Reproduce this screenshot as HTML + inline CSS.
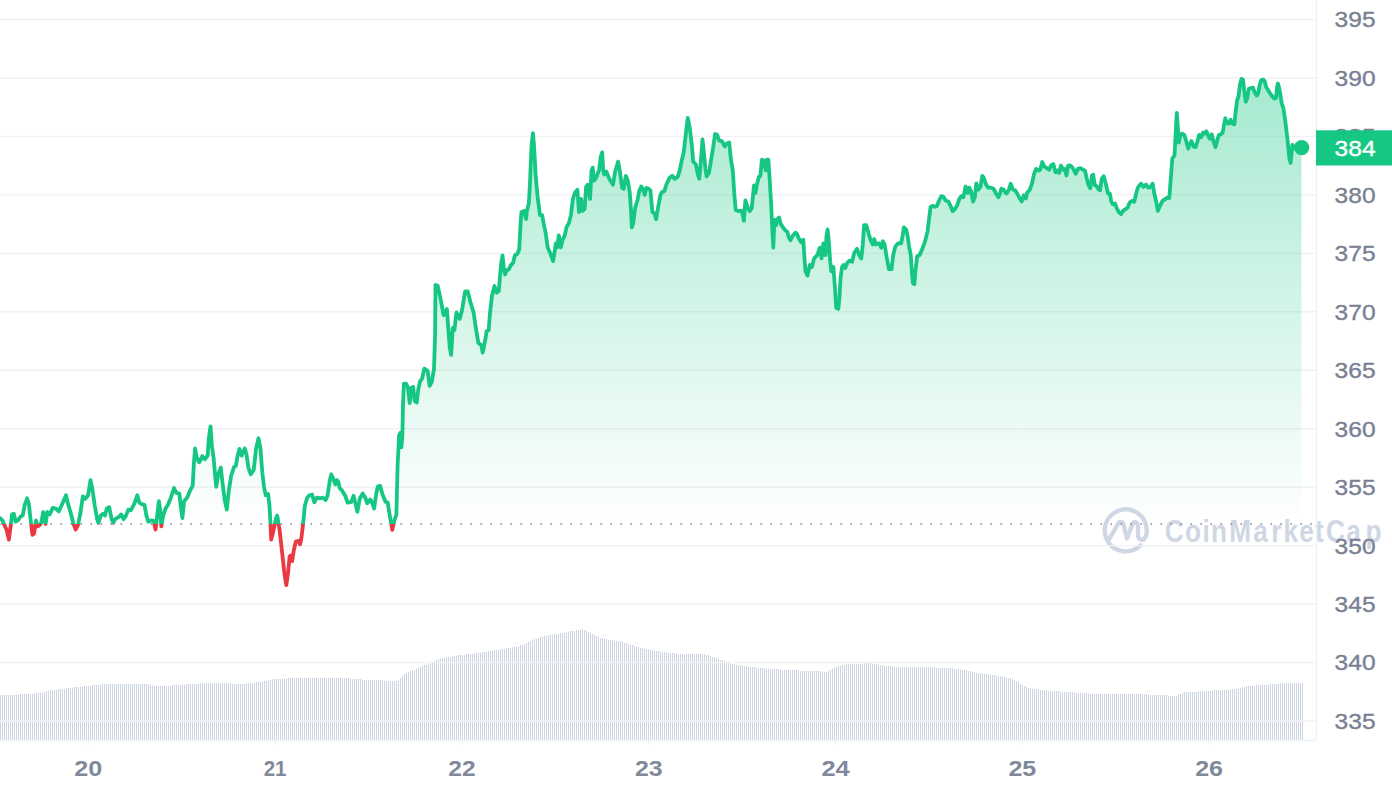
<!DOCTYPE html>
<html lang="en"><head><meta charset="utf-8"><title>Chart</title>
<style>
html,body{margin:0;padding:0;background:#fff;}
body{width:1392px;height:792px;overflow:hidden;font-family:"Liberation Sans",sans-serif;}
svg{display:block}
.yl text{font-family:"Liberation Sans",sans-serif;font-size:22.2px;fill:#7a8093;stroke:#7a8093;stroke-width:0.35px;}
.xl text{font-family:"Liberation Sans",sans-serif;font-size:22px;font-weight:700;fill:#7f899b;}
</style></head><body>
<svg width="1392" height="792" viewBox="0 0 1392 792">
<defs>
<linearGradient id="gg" gradientUnits="userSpaceOnUse" x1="0" y1="0" x2="0" y2="524.0">
<stop offset="0" stop-color="#16c784" stop-opacity="0.45"/><stop offset="1" stop-color="#16c784" stop-opacity="0.0"/></linearGradient>
<linearGradient id="rg" gradientUnits="userSpaceOnUse" x1="0" y1="524.0" x2="0" y2="740.5">
<stop offset="0" stop-color="#ea3943" stop-opacity="0.0"/><stop offset="1" stop-color="#ea3943" stop-opacity="0.3"/></linearGradient>
<clipPath id="up"><rect x="0" y="0" width="1316.5" height="524.0"/></clipPath>
<clipPath id="dn"><rect x="0" y="524.0" width="1316.5" height="216.5"/></clipPath>
</defs>
<rect width="1392" height="792" fill="#fff"/>
<path d="M0.5 695V740M2.5 695V740M4.5 695V740M6.5 695V740M8.5 695V740M10.5 695V740M12.5 695V740M14.5 695V740M16.5 695V740M18.5 695V740M20.5 694V740M22.5 694V740M24.5 694V740M26.5 694V740M28.5 694V740M30.5 694V740M32.5 694V740M34.5 693V740M36.5 693V740M38.5 693V740M40.5 693V740M42.5 692V740M44.5 692V740M46.5 691V740M48.5 691V740M50.5 690V740M52.5 690V740M54.5 690V740M56.5 690V740M58.5 689V740M60.5 689V740M62.5 689V740M64.5 689V740M66.5 688V740M68.5 688V740M70.5 688V740M72.5 688V740M74.5 687V740M76.5 687V740M78.5 687V740M80.5 687V740M82.5 687V740M84.5 686V740M86.5 686V740M88.5 686V740M90.5 686V740M92.5 685V740M94.5 685V740M96.5 685V740M98.5 685V740M100.5 684V740M102.5 684V740M104.5 684V740M106.5 684V740M108.5 684V740M110.5 684V740M112.5 684V740M114.5 684V740M116.5 684V740M118.5 684V740M120.5 684V740M122.5 684V740M124.5 684V740M126.5 684V740M128.5 684V740M130.5 684V740M132.5 684V740M134.5 684V740M136.5 684V740M138.5 684V740M140.5 684V740M142.5 684V740M144.5 684V740M146.5 684V740M148.5 684V740M150.5 685V740M152.5 685V740M154.5 686V740M156.5 686V740M158.5 686V740M160.5 686V740M162.5 686V740M164.5 686V740M166.5 686V740M168.5 686V740M170.5 686V740M172.5 685V740M174.5 685V740M176.5 685V740M178.5 685V740M180.5 685V740M182.5 685V740M184.5 685V740M186.5 684V740M188.5 684V740M190.5 684V740M192.5 684V740M194.5 684V740M196.5 684V740M198.5 684V740M200.5 683V740M202.5 683V740M204.5 683V740M206.5 683V740M208.5 683V740M210.5 683V740M212.5 683V740M214.5 683V740M216.5 683V740M218.5 683V740M220.5 683V740M222.5 683V740M224.5 683V740M226.5 683V740M228.5 683V740M230.5 683V740M232.5 684V740M234.5 684V740M236.5 684V740M238.5 684V740M240.5 684V740M242.5 684V740M244.5 684V740M246.5 683V740M248.5 683V740M250.5 683V740M252.5 683V740M254.5 683V740M256.5 682V740M258.5 682V740M260.5 682V740M262.5 681V740M264.5 681V740M266.5 681V740M268.5 680V740M270.5 680V740M272.5 679V740M274.5 679V740M276.5 679V740M278.5 679V740M280.5 679V740M282.5 679V740M284.5 679V740M286.5 678V740M288.5 678V740M290.5 678V740M292.5 678V740M294.5 678V740M296.5 678V740M298.5 678V740M300.5 678V740M302.5 678V740M304.5 678V740M306.5 678V740M308.5 678V740M310.5 678V740M312.5 678V740M314.5 678V740M316.5 678V740M318.5 678V740M320.5 678V740M322.5 678V740M324.5 678V740M326.5 678V740M328.5 678V740M330.5 678V740M332.5 678V740M334.5 678V740M336.5 678V740M338.5 678V740M340.5 678V740M342.5 678V740M344.5 678V740M346.5 678V740M348.5 678V740M350.5 679V740M352.5 679V740M354.5 679V740M356.5 679V740M358.5 679V740M360.5 679V740M362.5 680V740M364.5 680V740M366.5 680V740M368.5 680V740M370.5 680V740M372.5 680V740M374.5 680V740M376.5 680V740M378.5 680V740M380.5 680V740M382.5 680V740M384.5 681V740M386.5 681V740M388.5 681V740M390.5 681V740M392.5 681V740M394.5 681V740M396.5 681V740M398.5 680V740M400.5 678V740M402.5 676V740M404.5 674V740M406.5 673V740M408.5 672V740M410.5 671V740M412.5 670V740M414.5 670V740M416.5 669V740M418.5 668V740M420.5 667V740M422.5 666V740M424.5 665V740M426.5 665V740M428.5 664V740M430.5 663V740M432.5 662V740M434.5 661V740M436.5 660V740M438.5 659V740M440.5 659V740M442.5 658V740M444.5 658V740M446.5 657V740M448.5 657V740M450.5 657V740M452.5 656V740M454.5 656V740M456.5 656V740M458.5 655V740M460.5 655V740M462.5 655V740M464.5 655V740M466.5 654V740M468.5 654V740M470.5 654V740M472.5 654V740M474.5 653V740M476.5 653V740M478.5 653V740M480.5 653V740M482.5 652V740M484.5 652V740M486.5 652V740M488.5 651V740M490.5 651V740M492.5 651V740M494.5 650V740M496.5 650V740M498.5 650V740M500.5 649V740M502.5 649V740M504.5 649V740M506.5 648V740M508.5 648V740M510.5 648V740M512.5 647V740M514.5 647V740M516.5 647V740M518.5 646V740M520.5 645V740M522.5 645V740M524.5 644V740M526.5 643V740M528.5 642V740M530.5 641V740M532.5 640V740M534.5 639V740M536.5 639V740M538.5 638V740M540.5 637V740M542.5 637V740M544.5 636V740M546.5 636V740M548.5 635V740M550.5 635V740M552.5 635V740M554.5 634V740M556.5 634V740M558.5 634V740M560.5 633V740M562.5 633V740M564.5 633V740M566.5 632V740M568.5 632V740M570.5 631V740M572.5 631V740M574.5 631V740M576.5 630V740M578.5 630V740M580.5 630V740M582.5 629V740M584.5 630V740M586.5 631V740M588.5 632V740M590.5 633V740M592.5 634V740M594.5 635V740M596.5 636V740M598.5 637V740M600.5 638V740M602.5 638V740M604.5 639V740M606.5 639V740M608.5 640V740M610.5 640V740M612.5 640V740M614.5 641V740M616.5 641V740M618.5 641V740M620.5 641V740M622.5 642V740M624.5 643V740M626.5 643V740M628.5 644V740M630.5 645V740M632.5 645V740M634.5 646V740M636.5 647V740M638.5 647V740M640.5 648V740M642.5 648V740M644.5 649V740M646.5 649V740M648.5 649V740M650.5 650V740M652.5 650V740M654.5 651V740M656.5 651V740M658.5 651V740M660.5 652V740M662.5 652V740M664.5 652V740M666.5 652V740M668.5 653V740M670.5 653V740M672.5 653V740M674.5 653V740M676.5 654V740M678.5 654V740M680.5 654V740M682.5 654V740M684.5 655V740M686.5 654V740M688.5 654V740M690.5 654V740M692.5 654V740M694.5 654V740M696.5 654V740M698.5 654V740M700.5 654V740M702.5 654V740M704.5 654V740M706.5 655V740M708.5 655V740M710.5 656V740M712.5 657V740M714.5 657V740M716.5 658V740M718.5 659V740M720.5 660V740M722.5 660V740M724.5 661V740M726.5 662V740M728.5 663V740M730.5 664V740M732.5 664V740M734.5 664V740M736.5 665V740M738.5 665V740M740.5 665V740M742.5 666V740M744.5 666V740M746.5 666V740M748.5 667V740M750.5 667V740M752.5 667V740M754.5 667V740M756.5 668V740M758.5 668V740M760.5 668V740M762.5 668V740M764.5 668V740M766.5 669V740M768.5 669V740M770.5 669V740M772.5 669V740M774.5 669V740M776.5 669V740M778.5 669V740M780.5 670V740M782.5 670V740M784.5 670V740M786.5 670V740M788.5 670V740M790.5 670V740M792.5 670V740M794.5 670V740M796.5 670V740M798.5 670V740M800.5 671V740M802.5 671V740M804.5 671V740M806.5 671V740M808.5 671V740M810.5 671V740M812.5 671V740M814.5 671V740M816.5 671V740M818.5 671V740M820.5 671V740M822.5 672V740M824.5 672V740M826.5 672V740M828.5 671V740M830.5 670V740M832.5 669V740M834.5 668V740M836.5 667V740M838.5 666V740M840.5 666V740M842.5 665V740M844.5 665V740M846.5 664V740M848.5 664V740M850.5 664V740M852.5 664V740M854.5 664V740M856.5 664V740M858.5 664V740M860.5 664V740M862.5 664V740M864.5 663V740M866.5 663V740M868.5 663V740M870.5 663V740M872.5 664V740M874.5 664V740M876.5 664V740M878.5 665V740M880.5 665V740M882.5 665V740M884.5 666V740M886.5 666V740M888.5 666V740M890.5 666V740M892.5 666V740M894.5 667V740M896.5 667V740M898.5 667V740M900.5 667V740M902.5 667V740M904.5 667V740M906.5 667V740M908.5 667V740M910.5 667V740M912.5 667V740M914.5 667V740M916.5 667V740M918.5 667V740M920.5 667V740M922.5 667V740M924.5 667V740M926.5 667V740M928.5 667V740M930.5 667V740M932.5 667V740M934.5 667V740M936.5 668V740M938.5 668V740M940.5 668V740M942.5 668V740M944.5 668V740M946.5 668V740M948.5 668V740M950.5 668V740M952.5 668V740M954.5 669V740M956.5 669V740M958.5 669V740M960.5 669V740M962.5 670V740M964.5 670V740M966.5 670V740M968.5 671V740M970.5 671V740M972.5 672V740M974.5 672V740M976.5 673V740M978.5 673V740M980.5 673V740M982.5 674V740M984.5 674V740M986.5 674V740M988.5 674V740M990.5 675V740M992.5 675V740M994.5 675V740M996.5 676V740M998.5 676V740M1000.5 676V740M1002.5 677V740M1004.5 677V740M1006.5 678V740M1008.5 678V740M1010.5 678V740M1012.5 679V740M1014.5 680V740M1016.5 681V740M1018.5 682V740M1020.5 684V740M1022.5 685V740M1024.5 686V740M1026.5 687V740M1028.5 688V740M1030.5 688V740M1032.5 689V740M1034.5 689V740M1036.5 689V740M1038.5 689V740M1040.5 690V740M1042.5 690V740M1044.5 690V740M1046.5 690V740M1048.5 691V740M1050.5 691V740M1052.5 691V740M1054.5 691V740M1056.5 691V740M1058.5 691V740M1060.5 692V740M1062.5 692V740M1064.5 692V740M1066.5 692V740M1068.5 692V740M1070.5 692V740M1072.5 692V740M1074.5 692V740M1076.5 693V740M1078.5 693V740M1080.5 693V740M1082.5 693V740M1084.5 693V740M1086.5 693V740M1088.5 693V740M1090.5 694V740M1092.5 694V740M1094.5 694V740M1096.5 694V740M1098.5 694V740M1100.5 694V740M1102.5 694V740M1104.5 694V740M1106.5 694V740M1108.5 694V740M1110.5 694V740M1112.5 694V740M1114.5 694V740M1116.5 694V740M1118.5 694V740M1120.5 694V740M1122.5 694V740M1124.5 694V740M1126.5 694V740M1128.5 694V740M1130.5 694V740M1132.5 694V740M1134.5 694V740M1136.5 694V740M1138.5 694V740M1140.5 694V740M1142.5 694V740M1144.5 694V740M1146.5 694V740M1148.5 695V740M1150.5 695V740M1152.5 695V740M1154.5 695V740M1156.5 695V740M1158.5 695V740M1160.5 695V740M1162.5 695V740M1164.5 695V740M1166.5 695V740M1168.5 696V740M1170.5 696V740M1172.5 696V740M1174.5 696V740M1176.5 696V740M1178.5 695V740M1180.5 694V740M1182.5 693V740M1184.5 692V740M1186.5 692V740M1188.5 692V740M1190.5 692V740M1192.5 692V740M1194.5 692V740M1196.5 692V740M1198.5 691V740M1200.5 691V740M1202.5 691V740M1204.5 691V740M1206.5 691V740M1208.5 691V740M1210.5 691V740M1212.5 690V740M1214.5 690V740M1216.5 690V740M1218.5 690V740M1220.5 690V740M1222.5 690V740M1224.5 690V740M1226.5 690V740M1228.5 690V740M1230.5 689V740M1232.5 689V740M1234.5 689V740M1236.5 689V740M1238.5 688V740M1240.5 688V740M1242.5 687V740M1244.5 687V740M1246.5 686V740M1248.5 686V740M1250.5 686V740M1252.5 686V740M1254.5 686V740M1256.5 685V740M1258.5 685V740M1260.5 685V740M1262.5 685V740M1264.5 685V740M1266.5 685V740M1268.5 684V740M1270.5 684V740M1272.5 684V740M1274.5 684V740M1276.5 684V740M1278.5 684V740M1280.5 683V740M1282.5 683V740M1284.5 683V740M1286.5 683V740M1288.5 683V740M1290.5 683V740M1292.5 683V740M1294.5 683V740M1296.5 683V740M1298.5 683V740M1300.5 683V740M1302.5 683V740" stroke="#ccd4e1" stroke-width="1" fill="none" shape-rendering="crispEdges"/>
<g id="wm" fill="none" stroke="#d0d7e4" stroke-width="4.4" stroke-linecap="round" stroke-linejoin="round">
<path d="M1140.5 545.3 A21 21 0 1 1 1146.7 529.5 C1147 536 1145 539.8 1141.8 539.8 C1139 539.8 1138 537.5 1138 534 L1138 527 C1138 521.5 1133.6 520.8 1132.2 524.8 L1127 538.5 L1123.6 525 C1122.6 521 1119.6 521 1118 524 L1108.8 540"/>
</g>
<text transform="scale(0.86 1)" x="1354.4 1377.8 1398.4 1408.0 1429.3 1457.2 1478.3 1492.6 1510.8 1529.2 1542.0 1565.3 1587.9" y="541.6" font-family="Liberation Sans, sans-serif" font-weight="700" font-size="30.5" fill="#d0d7e4">CoinMarketCap</text>
<g stroke="#f0f1f3" stroke-width="1.4"><line x1="0" x2="1316.5" y1="19.5" y2="19.5"/><line x1="0" x2="1316.5" y1="78" y2="78"/><line x1="0" x2="1316.5" y1="136.4" y2="136.4"/><line x1="0" x2="1316.5" y1="194.9" y2="194.9"/><line x1="0" x2="1316.5" y1="253.4" y2="253.4"/><line x1="0" x2="1316.5" y1="311.8" y2="311.8"/><line x1="0" x2="1316.5" y1="370.2" y2="370.2"/><line x1="0" x2="1316.5" y1="428.7" y2="428.7"/><line x1="0" x2="1316.5" y1="487.2" y2="487.2"/><line x1="0" x2="1316.5" y1="545.6" y2="545.6"/><line x1="0" x2="1316.5" y1="604.1" y2="604.1"/><line x1="0" x2="1316.5" y1="662.5" y2="662.5"/><line x1="0" x2="1316.5" y1="721" y2="721"/></g>
<path d="M0 518 L2.4 520.4 L4.3 524.7 L6.7 530 L8.9 539.6 L10.8 525.2 L12 514.4 L13.9 513.9 L15.6 521.6 L18 520.4 L20.4 516.8 L22.8 515.1 L24.7 504.8 L27.1 498.3 L28.8 503.6 L30.7 520.4 L32.4 534.8 L34.1 533.6 L36 520.4 L37.7 526.4 L39.6 525.2 L41.3 522.8 L43.2 512 L45.6 524 L47.3 512 L49.7 514.4 L52.8 507.9 L56.4 508.9 L58.8 511.3 L61.9 504.8 L66 495.2 L67.9 503.6 L70.8 513.2 L73.2 522.8 L75.6 529.5 L78 525.2 L80.4 513.2 L82.8 496.4 L85.2 498.8 L88.1 495.2 L90.5 480.1 L92.4 489.2 L94.8 506 L97.2 519.2 L98.4 522.8 L100.8 515.6 L103.2 513.7 L104.9 515.6 L106.8 508.4 L109.2 507.2 L111.6 519.2 L113.3 522.8 L115.2 519.2 L118.8 516.8 L121.2 514.4 L123.6 519.2 L126 515.6 L128.4 509.6 L130.8 510.3 L134.4 503.6 L137.3 495.2 L139.2 502.4 L141.6 504.1 L144.5 504.8 L146.4 515.6 L148.3 521.6 L151.2 520.4 L153.6 520.9 L155.5 529.5 L157.2 515.6 L158.9 501.2 L160.3 510.8 L161.3 526.4 L163.2 515.6 L165.6 508.4 L168 504.8 L170.9 497.6 L174 488 L176.4 492.8 L179.3 493.5 L180.7 506 L182.4 518 L184.1 501.2 L187.2 497.6 L189.6 491.6 L192.7 485.6 L193.9 462.8 L195.1 448.4 L196.8 458 L199.2 462.3 L202.3 456.1 L204.7 459.2 L207.6 455.6 L208.8 438.8 L210.5 426.3 L211.9 446 L213.6 458 L215.3 477.2 L216.2 486.8 L218.4 473.6 L220.8 467.6 L222.7 484.4 L224.9 501.2 L226.8 509.6 L228.7 491.6 L231.1 476 L234 467.1 L235.9 465.7 L237.6 455.6 L239.5 448.9 L241.7 455.6 L244.8 448.4 L246.5 454.4 L248.4 467.6 L250.8 474.3 L253.7 470 L256.1 448.4 L258.5 438.3 L260.4 448.4 L262.3 472.4 L264 486.8 L265.7 495.2 L268.1 494 L269.5 506 L270.5 524 L271.2 539.6 L273.6 530 L276 518 L277.2 515.6 L278.4 522.8 L279.6 530 L282 551.6 L284.4 573.2 L286.3 585.2 L288 573.2 L289.7 556.4 L291.6 555.2 L292.1 561.2 L294 549.2 L295.9 541.5 L298.8 540.8 L300 544.4 L301.2 539.6 L303.1 524 L304.8 506 L307.2 497.6 L309.6 495.2 L312 494.5 L314.4 502.4 L316.8 497.6 L320.4 498.3 L322.8 497.6 L325.7 500 L327.6 495.2 L330 479.6 L331.2 474.3 L333.6 479.6 L335.3 484.4 L336.7 480.1 L338.4 482 L339.6 488 L342 490.4 L344.9 495.2 L345.3 495.8 L347.6 502.6 L351.4 501.8 L353.6 495.8 L355.2 502.6 L357.4 511.7 L359.7 498.8 L362.7 493.5 L365 497.3 L367.3 503.3 L370.3 499.5 L372.1 502.6 L374.1 508.6 L376.4 492.7 L377.9 486.4 L380.2 485.9 L382.4 494.2 L385.5 501.8 L387.7 502.6 L390 517 L392.3 529.8 L394.5 520 L396.4 514.7 L397.6 465.5 L399.1 435.2 L400.3 432.9 L401.4 447.3 L402.4 435.2 L402.9 407.3 L403.9 383.7 L406.1 383.7 L407.8 387 L409.7 403 L411.5 387.6 L413.2 387 L414.7 400.9 L416.8 402.6 L418.3 389.1 L420 381.6 L422.2 378.4 L424.3 368.7 L427.6 370.9 L429.7 385.9 L431.8 381.6 L434 368.7 L435.1 334.4 L435.5 285 L437.6 285.5 L440.4 297.9 L443.6 315.1 L446.9 309.1 L448.4 330.1 L449.7 347.3 L451.2 354.8 L452.7 327.9 L454.4 330.1 L456.5 312.5 L459.7 318.9 L461.9 310.8 L465.1 291.5 L467.7 291.5 L470.5 302.2 L473.7 312.9 L475.8 327.9 L478.4 343 L481.2 345.1 L482.7 352.6 L485.5 338.7 L486.6 331.2 L488.7 330.1 L490 313 L492 295.8 L494.5 286 L496.7 292.7 L498.8 291 L500.4 271.5 L501.2 263.5 L502.5 255.5 L503.8 268 L505 274.5 L506.9 270.1 L508.8 269.4 L510.7 265.4 L513.1 262.8 L515 255.2 L517.3 254 L519.2 249.3 L520.4 227.2 L521.4 212 L524 211 L526.1 219.1 L526.9 211 L528.9 202.9 L530.1 180.7 L531.5 146.4 L532.9 133.2 L534.1 146.4 L535.6 174.6 L537.6 196.9 L540 215.1 L542.2 215.1 L543.6 223.1 L545.7 233.2 L547.7 247.4 L550.3 253.4 L553.1 261.1 L554.7 251.4 L555.8 243.3 L557.2 247.4 L558.8 235.3 L560.8 247.4 L562.8 239.3 L564.8 235.3 L566.5 227.2 L568.9 223.1 L570.9 215.1 L572.9 198.9 L574.9 192.8 L577.4 189.8 L579 212 L581 198.9 L582.6 211 L584.6 209 L586.1 186.8 L587.5 184.7 L590.1 198.9 L591.5 170.6 L592.7 167.6 L594.1 180.7 L596.2 177.7 L599.2 169.6 L600.8 156.5 L602.2 152.4 L603.2 170.6 L604.2 174.6 L606.3 171.6 L609.3 178.7 L613 184.8 L615.1 171.7 L618.1 161.6 L620.1 172.7 L622.1 187.9 L623.7 188.9 L625.8 175.8 L627.8 180.8 L629.8 192.9 L631.2 213.1 L631.8 227.3 L633.2 223.2 L635.3 207.1 L637.3 201 L639.3 190.9 L641.3 186.5 L643.3 189.9 L644.7 194.9 L646.4 187.9 L648.4 188.5 L650.4 190.5 L652.4 212.1 L654.4 213.1 L656.1 219.2 L658.5 205.1 L660.5 194.9 L662.1 191.9 L664.5 190.9 L666.6 183.8 L669.6 177.8 L672.2 175.8 L674.6 178.8 L677.7 176.8 L679.7 170.7 L681.7 160.6 L683.7 152.5 L685.8 134.3 L687.8 117.8 L689.8 128.3 L691.8 144.4 L693.2 161.6 L695.9 164.6 L697.9 174.7 L699.3 178.8 L700.9 160.6 L702.5 139.4 L703.9 152.5 L705.4 168.7 L706.6 176.4 L709 172.7 L711 160.6 L713 148.5 L715.1 133.9 L717.1 134.7 L719.1 140.4 L722.1 141.4 L724.7 146.5 L726.8 143.4 L729.2 142.4 L730.8 158.6 L732.8 170.7 L734.2 192.9 L735.7 210.1 L738.3 211.1 L741.3 210.7 L742.1 212.3 L743.9 220.9 L745.4 200.5 L747.5 206.9 L749.7 211.2 L751.8 208 L754 185.4 L755.5 192.9 L756.7 185.4 L758.9 176.8 L760.4 175.8 L761.9 159.7 L764 160.7 L765.8 170.4 L766.8 159.7 L768.3 159.7 L769.6 177.9 L771.1 203.7 L772.2 227.3 L773.3 247.7 L774.4 219.8 L776.1 225.2 L777.6 218.7 L779.1 217.6 L780.8 224.1 L782.9 227.3 L785.5 230.5 L787.2 231.6 L789 238 L790.5 240.2 L792.6 235.9 L795.4 232.7 L796.9 233.7 L799.1 239.1 L801.2 242.3 L803.3 239.8 L804.4 257.4 L805.5 271.3 L807.6 275.6 L809.8 264.9 L811.9 267 L814.1 258.4 L817.3 255.2 L819.9 247.7 L821.6 258.4 L823.3 243.4 L825.5 255.2 L826.5 235.9 L827.6 229.5 L828.7 240.2 L830.2 261.7 L831.3 271.3 L833.4 267 L834.9 287.4 L836.2 307.8 L838.3 308.9 L839.4 298.2 L840.5 278.8 L842 267 L843.5 264.9 L845.2 268.1 L847.4 262.7 L849.5 260.6 L852.1 261.7 L854.2 253.1 L857 248.8 L859.2 255.2 L861.3 258.4 L862.8 244.5 L864.1 225.2 L866.3 225.2 L868.4 232.7 L870.6 240.2 L872.7 244.5 L874.2 239.1 L875.7 244.5 L877.9 243.4 L879 243.4 L881.2 247.7 L882.9 241.3 L884.6 244.5 L886.7 257.4 L888.9 269.2 L891.5 269.2 L893.2 255.2 L895.3 246.6 L897.9 243.4 L901.1 243.4 L902.6 235.9 L903.9 227.3 L906.1 229.5 L907.6 235.9 L909.1 246.6 L910.8 255.2 L911.9 272.4 L912.9 283.1 L914.4 284.2 L915.5 270.2 L917.2 256.3 L919.4 255.2 L921.5 250.9 L924.8 242.3 L927.5 231.6 L929.1 218.7 L930.6 206.9 L932.7 205.8 L934.8 206.9 L937 205.8 L939.1 200.5 L941.3 196.2 L943.4 196.8 L945.6 200.5 L948.4 201.5 L950.5 205.8 L952.7 211.2 L954.8 209.1 L957 205.8 L959.1 199.4 L961.3 196.2 L963.4 197.2 L965.6 186.5 L967.7 192.9 L969.2 187.6 L970.9 190.8 L973.1 201.5 L974.8 197.2 L976.3 183.3 L978.4 189.7 L980.6 186.5 L982.3 175.8 L983.8 177.9 L986 184.4 L988.1 187.6 L990.7 187.6 L993.5 188.7 L995.6 192.9 L998.4 197.2 L999.9 194 L1001.4 188.7 L1003.6 189.7 L1005.7 192.9 L1006.6 193.5 L1009 189.4 L1010.7 183.7 L1012.8 189.4 L1015.1 190.3 L1017.2 193.5 L1019.7 198.5 L1021.7 201.4 L1023.8 195.2 L1025.9 198.5 L1027.1 192.7 L1029.5 190.3 L1032 183.7 L1034.1 173.8 L1036.1 168.9 L1038.6 170.6 L1040.2 169.7 L1042.3 162 L1044.3 166.5 L1046.8 168.1 L1049.2 169.7 L1050.9 165.6 L1053.3 164 L1055.5 172.2 L1057.4 170.6 L1059.1 173 L1061 165.6 L1063.2 169.7 L1064.8 168.9 L1066.5 175.5 L1068.1 165.6 L1070.2 165.3 L1072.2 167.3 L1074.2 170.6 L1075.8 173.8 L1077.9 168.9 L1080.4 168.1 L1082.9 169.7 L1085 170.6 L1086.6 177.9 L1088.3 184.5 L1090.3 188.3 L1091.9 175.5 L1093.2 174.7 L1094.8 185.3 L1096.8 186.2 L1098.5 189.4 L1100.1 190.3 L1101.7 178.8 L1103.7 176.3 L1105.8 183.7 L1108 193.5 L1109.9 193.5 L1111.3 201.7 L1112.9 204.2 L1114.9 203.4 L1116.8 208.3 L1119 212.4 L1121.1 214 L1123.1 210.8 L1125.5 209.1 L1127.7 207.5 L1129.6 202.6 L1132.1 200.9 L1134.2 201.7 L1136.2 193.5 L1137.8 187.8 L1139.5 185.3 L1141.1 183.7 L1143.6 187 L1146 184.5 L1148.5 187.8 L1150.6 187 L1152.6 183.7 L1154.3 193.5 L1156.2 201.7 L1157.9 210.8 L1160 205.8 L1162.5 200.9 L1164.9 199.3 L1167.4 197.6 L1169.3 198.1 L1172.3 158.5 L1174.5 155.5 L1175.8 131.2 L1176.8 113 L1177.9 128.2 L1178.8 142.6 L1180.3 135.8 L1182.1 133.5 L1184.4 135 L1186.4 141.8 L1188.2 148.6 L1189.7 144.8 L1191.5 141.1 L1193.5 146.4 L1195.5 147.1 L1197.3 141.8 L1199.1 135 L1201.1 137.3 L1203 132.7 L1204.8 133.5 L1206.4 131.2 L1207.9 135 L1209.7 138.8 L1211.7 134.2 L1213.6 141.8 L1215.5 147.1 L1217.3 140.3 L1218.8 135 L1220.8 134.2 L1222.7 132.7 L1224.2 123.6 L1225.3 118.3 L1226.8 122.9 L1228.8 123.6 L1230.6 119.8 L1232.4 123.6 L1234.4 124.4 L1235.5 113 L1237 100.9 L1238.5 96.4 L1240 84.2 L1241.5 78.9 L1243 79.7 L1244.2 90.3 L1245.8 101.7 L1247.3 97.9 L1248.8 88.8 L1251.1 88 L1253 87.6 L1254.8 92.6 L1256.7 95.6 L1258.2 93.3 L1259.7 85 L1261.2 80.2 L1263.2 79.7 L1264.7 81.2 L1266.2 87.3 L1268.2 90.3 L1270 93.3 L1272.3 96.4 L1274.5 98.6 L1276.1 97.9 L1277 87.3 L1277.9 83.5 L1279.4 88.8 L1280.6 96.4 L1281.8 103.9 L1283.3 107.7 L1285.2 120.6 L1286.7 132.7 L1288.2 146.4 L1289.4 158.5 L1290.6 163 L1291.5 153.9 L1292.4 144.8 L1294.2 147.9 L1296.5 147.6 L1301.5 147.6 L1301.5 524.0 L0 524.0 Z" fill="url(#gg)" clip-path="url(#up)"/>
<path d="M0 518 L2.4 520.4 L4.3 524.7 L6.7 530 L8.9 539.6 L10.8 525.2 L12 514.4 L13.9 513.9 L15.6 521.6 L18 520.4 L20.4 516.8 L22.8 515.1 L24.7 504.8 L27.1 498.3 L28.8 503.6 L30.7 520.4 L32.4 534.8 L34.1 533.6 L36 520.4 L37.7 526.4 L39.6 525.2 L41.3 522.8 L43.2 512 L45.6 524 L47.3 512 L49.7 514.4 L52.8 507.9 L56.4 508.9 L58.8 511.3 L61.9 504.8 L66 495.2 L67.9 503.6 L70.8 513.2 L73.2 522.8 L75.6 529.5 L78 525.2 L80.4 513.2 L82.8 496.4 L85.2 498.8 L88.1 495.2 L90.5 480.1 L92.4 489.2 L94.8 506 L97.2 519.2 L98.4 522.8 L100.8 515.6 L103.2 513.7 L104.9 515.6 L106.8 508.4 L109.2 507.2 L111.6 519.2 L113.3 522.8 L115.2 519.2 L118.8 516.8 L121.2 514.4 L123.6 519.2 L126 515.6 L128.4 509.6 L130.8 510.3 L134.4 503.6 L137.3 495.2 L139.2 502.4 L141.6 504.1 L144.5 504.8 L146.4 515.6 L148.3 521.6 L151.2 520.4 L153.6 520.9 L155.5 529.5 L157.2 515.6 L158.9 501.2 L160.3 510.8 L161.3 526.4 L163.2 515.6 L165.6 508.4 L168 504.8 L170.9 497.6 L174 488 L176.4 492.8 L179.3 493.5 L180.7 506 L182.4 518 L184.1 501.2 L187.2 497.6 L189.6 491.6 L192.7 485.6 L193.9 462.8 L195.1 448.4 L196.8 458 L199.2 462.3 L202.3 456.1 L204.7 459.2 L207.6 455.6 L208.8 438.8 L210.5 426.3 L211.9 446 L213.6 458 L215.3 477.2 L216.2 486.8 L218.4 473.6 L220.8 467.6 L222.7 484.4 L224.9 501.2 L226.8 509.6 L228.7 491.6 L231.1 476 L234 467.1 L235.9 465.7 L237.6 455.6 L239.5 448.9 L241.7 455.6 L244.8 448.4 L246.5 454.4 L248.4 467.6 L250.8 474.3 L253.7 470 L256.1 448.4 L258.5 438.3 L260.4 448.4 L262.3 472.4 L264 486.8 L265.7 495.2 L268.1 494 L269.5 506 L270.5 524 L271.2 539.6 L273.6 530 L276 518 L277.2 515.6 L278.4 522.8 L279.6 530 L282 551.6 L284.4 573.2 L286.3 585.2 L288 573.2 L289.7 556.4 L291.6 555.2 L292.1 561.2 L294 549.2 L295.9 541.5 L298.8 540.8 L300 544.4 L301.2 539.6 L303.1 524 L304.8 506 L307.2 497.6 L309.6 495.2 L312 494.5 L314.4 502.4 L316.8 497.6 L320.4 498.3 L322.8 497.6 L325.7 500 L327.6 495.2 L330 479.6 L331.2 474.3 L333.6 479.6 L335.3 484.4 L336.7 480.1 L338.4 482 L339.6 488 L342 490.4 L344.9 495.2 L345.3 495.8 L347.6 502.6 L351.4 501.8 L353.6 495.8 L355.2 502.6 L357.4 511.7 L359.7 498.8 L362.7 493.5 L365 497.3 L367.3 503.3 L370.3 499.5 L372.1 502.6 L374.1 508.6 L376.4 492.7 L377.9 486.4 L380.2 485.9 L382.4 494.2 L385.5 501.8 L387.7 502.6 L390 517 L392.3 529.8 L394.5 520 L396.4 514.7 L397.6 465.5 L399.1 435.2 L400.3 432.9 L401.4 447.3 L402.4 435.2 L402.9 407.3 L403.9 383.7 L406.1 383.7 L407.8 387 L409.7 403 L411.5 387.6 L413.2 387 L414.7 400.9 L416.8 402.6 L418.3 389.1 L420 381.6 L422.2 378.4 L424.3 368.7 L427.6 370.9 L429.7 385.9 L431.8 381.6 L434 368.7 L435.1 334.4 L435.5 285 L437.6 285.5 L440.4 297.9 L443.6 315.1 L446.9 309.1 L448.4 330.1 L449.7 347.3 L451.2 354.8 L452.7 327.9 L454.4 330.1 L456.5 312.5 L459.7 318.9 L461.9 310.8 L465.1 291.5 L467.7 291.5 L470.5 302.2 L473.7 312.9 L475.8 327.9 L478.4 343 L481.2 345.1 L482.7 352.6 L485.5 338.7 L486.6 331.2 L488.7 330.1 L490 313 L492 295.8 L494.5 286 L496.7 292.7 L498.8 291 L500.4 271.5 L501.2 263.5 L502.5 255.5 L503.8 268 L505 274.5 L506.9 270.1 L508.8 269.4 L510.7 265.4 L513.1 262.8 L515 255.2 L517.3 254 L519.2 249.3 L520.4 227.2 L521.4 212 L524 211 L526.1 219.1 L526.9 211 L528.9 202.9 L530.1 180.7 L531.5 146.4 L532.9 133.2 L534.1 146.4 L535.6 174.6 L537.6 196.9 L540 215.1 L542.2 215.1 L543.6 223.1 L545.7 233.2 L547.7 247.4 L550.3 253.4 L553.1 261.1 L554.7 251.4 L555.8 243.3 L557.2 247.4 L558.8 235.3 L560.8 247.4 L562.8 239.3 L564.8 235.3 L566.5 227.2 L568.9 223.1 L570.9 215.1 L572.9 198.9 L574.9 192.8 L577.4 189.8 L579 212 L581 198.9 L582.6 211 L584.6 209 L586.1 186.8 L587.5 184.7 L590.1 198.9 L591.5 170.6 L592.7 167.6 L594.1 180.7 L596.2 177.7 L599.2 169.6 L600.8 156.5 L602.2 152.4 L603.2 170.6 L604.2 174.6 L606.3 171.6 L609.3 178.7 L613 184.8 L615.1 171.7 L618.1 161.6 L620.1 172.7 L622.1 187.9 L623.7 188.9 L625.8 175.8 L627.8 180.8 L629.8 192.9 L631.2 213.1 L631.8 227.3 L633.2 223.2 L635.3 207.1 L637.3 201 L639.3 190.9 L641.3 186.5 L643.3 189.9 L644.7 194.9 L646.4 187.9 L648.4 188.5 L650.4 190.5 L652.4 212.1 L654.4 213.1 L656.1 219.2 L658.5 205.1 L660.5 194.9 L662.1 191.9 L664.5 190.9 L666.6 183.8 L669.6 177.8 L672.2 175.8 L674.6 178.8 L677.7 176.8 L679.7 170.7 L681.7 160.6 L683.7 152.5 L685.8 134.3 L687.8 117.8 L689.8 128.3 L691.8 144.4 L693.2 161.6 L695.9 164.6 L697.9 174.7 L699.3 178.8 L700.9 160.6 L702.5 139.4 L703.9 152.5 L705.4 168.7 L706.6 176.4 L709 172.7 L711 160.6 L713 148.5 L715.1 133.9 L717.1 134.7 L719.1 140.4 L722.1 141.4 L724.7 146.5 L726.8 143.4 L729.2 142.4 L730.8 158.6 L732.8 170.7 L734.2 192.9 L735.7 210.1 L738.3 211.1 L741.3 210.7 L742.1 212.3 L743.9 220.9 L745.4 200.5 L747.5 206.9 L749.7 211.2 L751.8 208 L754 185.4 L755.5 192.9 L756.7 185.4 L758.9 176.8 L760.4 175.8 L761.9 159.7 L764 160.7 L765.8 170.4 L766.8 159.7 L768.3 159.7 L769.6 177.9 L771.1 203.7 L772.2 227.3 L773.3 247.7 L774.4 219.8 L776.1 225.2 L777.6 218.7 L779.1 217.6 L780.8 224.1 L782.9 227.3 L785.5 230.5 L787.2 231.6 L789 238 L790.5 240.2 L792.6 235.9 L795.4 232.7 L796.9 233.7 L799.1 239.1 L801.2 242.3 L803.3 239.8 L804.4 257.4 L805.5 271.3 L807.6 275.6 L809.8 264.9 L811.9 267 L814.1 258.4 L817.3 255.2 L819.9 247.7 L821.6 258.4 L823.3 243.4 L825.5 255.2 L826.5 235.9 L827.6 229.5 L828.7 240.2 L830.2 261.7 L831.3 271.3 L833.4 267 L834.9 287.4 L836.2 307.8 L838.3 308.9 L839.4 298.2 L840.5 278.8 L842 267 L843.5 264.9 L845.2 268.1 L847.4 262.7 L849.5 260.6 L852.1 261.7 L854.2 253.1 L857 248.8 L859.2 255.2 L861.3 258.4 L862.8 244.5 L864.1 225.2 L866.3 225.2 L868.4 232.7 L870.6 240.2 L872.7 244.5 L874.2 239.1 L875.7 244.5 L877.9 243.4 L879 243.4 L881.2 247.7 L882.9 241.3 L884.6 244.5 L886.7 257.4 L888.9 269.2 L891.5 269.2 L893.2 255.2 L895.3 246.6 L897.9 243.4 L901.1 243.4 L902.6 235.9 L903.9 227.3 L906.1 229.5 L907.6 235.9 L909.1 246.6 L910.8 255.2 L911.9 272.4 L912.9 283.1 L914.4 284.2 L915.5 270.2 L917.2 256.3 L919.4 255.2 L921.5 250.9 L924.8 242.3 L927.5 231.6 L929.1 218.7 L930.6 206.9 L932.7 205.8 L934.8 206.9 L937 205.8 L939.1 200.5 L941.3 196.2 L943.4 196.8 L945.6 200.5 L948.4 201.5 L950.5 205.8 L952.7 211.2 L954.8 209.1 L957 205.8 L959.1 199.4 L961.3 196.2 L963.4 197.2 L965.6 186.5 L967.7 192.9 L969.2 187.6 L970.9 190.8 L973.1 201.5 L974.8 197.2 L976.3 183.3 L978.4 189.7 L980.6 186.5 L982.3 175.8 L983.8 177.9 L986 184.4 L988.1 187.6 L990.7 187.6 L993.5 188.7 L995.6 192.9 L998.4 197.2 L999.9 194 L1001.4 188.7 L1003.6 189.7 L1005.7 192.9 L1006.6 193.5 L1009 189.4 L1010.7 183.7 L1012.8 189.4 L1015.1 190.3 L1017.2 193.5 L1019.7 198.5 L1021.7 201.4 L1023.8 195.2 L1025.9 198.5 L1027.1 192.7 L1029.5 190.3 L1032 183.7 L1034.1 173.8 L1036.1 168.9 L1038.6 170.6 L1040.2 169.7 L1042.3 162 L1044.3 166.5 L1046.8 168.1 L1049.2 169.7 L1050.9 165.6 L1053.3 164 L1055.5 172.2 L1057.4 170.6 L1059.1 173 L1061 165.6 L1063.2 169.7 L1064.8 168.9 L1066.5 175.5 L1068.1 165.6 L1070.2 165.3 L1072.2 167.3 L1074.2 170.6 L1075.8 173.8 L1077.9 168.9 L1080.4 168.1 L1082.9 169.7 L1085 170.6 L1086.6 177.9 L1088.3 184.5 L1090.3 188.3 L1091.9 175.5 L1093.2 174.7 L1094.8 185.3 L1096.8 186.2 L1098.5 189.4 L1100.1 190.3 L1101.7 178.8 L1103.7 176.3 L1105.8 183.7 L1108 193.5 L1109.9 193.5 L1111.3 201.7 L1112.9 204.2 L1114.9 203.4 L1116.8 208.3 L1119 212.4 L1121.1 214 L1123.1 210.8 L1125.5 209.1 L1127.7 207.5 L1129.6 202.6 L1132.1 200.9 L1134.2 201.7 L1136.2 193.5 L1137.8 187.8 L1139.5 185.3 L1141.1 183.7 L1143.6 187 L1146 184.5 L1148.5 187.8 L1150.6 187 L1152.6 183.7 L1154.3 193.5 L1156.2 201.7 L1157.9 210.8 L1160 205.8 L1162.5 200.9 L1164.9 199.3 L1167.4 197.6 L1169.3 198.1 L1172.3 158.5 L1174.5 155.5 L1175.8 131.2 L1176.8 113 L1177.9 128.2 L1178.8 142.6 L1180.3 135.8 L1182.1 133.5 L1184.4 135 L1186.4 141.8 L1188.2 148.6 L1189.7 144.8 L1191.5 141.1 L1193.5 146.4 L1195.5 147.1 L1197.3 141.8 L1199.1 135 L1201.1 137.3 L1203 132.7 L1204.8 133.5 L1206.4 131.2 L1207.9 135 L1209.7 138.8 L1211.7 134.2 L1213.6 141.8 L1215.5 147.1 L1217.3 140.3 L1218.8 135 L1220.8 134.2 L1222.7 132.7 L1224.2 123.6 L1225.3 118.3 L1226.8 122.9 L1228.8 123.6 L1230.6 119.8 L1232.4 123.6 L1234.4 124.4 L1235.5 113 L1237 100.9 L1238.5 96.4 L1240 84.2 L1241.5 78.9 L1243 79.7 L1244.2 90.3 L1245.8 101.7 L1247.3 97.9 L1248.8 88.8 L1251.1 88 L1253 87.6 L1254.8 92.6 L1256.7 95.6 L1258.2 93.3 L1259.7 85 L1261.2 80.2 L1263.2 79.7 L1264.7 81.2 L1266.2 87.3 L1268.2 90.3 L1270 93.3 L1272.3 96.4 L1274.5 98.6 L1276.1 97.9 L1277 87.3 L1277.9 83.5 L1279.4 88.8 L1280.6 96.4 L1281.8 103.9 L1283.3 107.7 L1285.2 120.6 L1286.7 132.7 L1288.2 146.4 L1289.4 158.5 L1290.6 163 L1291.5 153.9 L1292.4 144.8 L1294.2 147.9 L1296.5 147.6 L1301.5 147.6 L1301.5 524.0 L0 524.0 Z" fill="url(#rg)" clip-path="url(#dn)"/>
<g stroke="#f3f5f8" stroke-width="1.2" stroke-opacity="0.45"><line x1="0" x2="1316.5" y1="604.1" y2="604.1"/><line x1="0" x2="1316.5" y1="662.5" y2="662.5"/><line x1="0" x2="1316.5" y1="721" y2="721"/></g>
<line x1="0.4" x2="1312" y1="524.0" y2="524.0" stroke="#878c96" stroke-width="1.7" stroke-dasharray="1.7 8.3"/>
<g fill="none" stroke-width="3.8" stroke-linejoin="round" stroke-linecap="round">
<path d="M0 518 L2.4 520.4 L4.3 524.7 L6.7 530 L8.9 539.6 L10.8 525.2 L12 514.4 L13.9 513.9 L15.6 521.6 L18 520.4 L20.4 516.8 L22.8 515.1 L24.7 504.8 L27.1 498.3 L28.8 503.6 L30.7 520.4 L32.4 534.8 L34.1 533.6 L36 520.4 L37.7 526.4 L39.6 525.2 L41.3 522.8 L43.2 512 L45.6 524 L47.3 512 L49.7 514.4 L52.8 507.9 L56.4 508.9 L58.8 511.3 L61.9 504.8 L66 495.2 L67.9 503.6 L70.8 513.2 L73.2 522.8 L75.6 529.5 L78 525.2 L80.4 513.2 L82.8 496.4 L85.2 498.8 L88.1 495.2 L90.5 480.1 L92.4 489.2 L94.8 506 L97.2 519.2 L98.4 522.8 L100.8 515.6 L103.2 513.7 L104.9 515.6 L106.8 508.4 L109.2 507.2 L111.6 519.2 L113.3 522.8 L115.2 519.2 L118.8 516.8 L121.2 514.4 L123.6 519.2 L126 515.6 L128.4 509.6 L130.8 510.3 L134.4 503.6 L137.3 495.2 L139.2 502.4 L141.6 504.1 L144.5 504.8 L146.4 515.6 L148.3 521.6 L151.2 520.4 L153.6 520.9 L155.5 529.5 L157.2 515.6 L158.9 501.2 L160.3 510.8 L161.3 526.4 L163.2 515.6 L165.6 508.4 L168 504.8 L170.9 497.6 L174 488 L176.4 492.8 L179.3 493.5 L180.7 506 L182.4 518 L184.1 501.2 L187.2 497.6 L189.6 491.6 L192.7 485.6 L193.9 462.8 L195.1 448.4 L196.8 458 L199.2 462.3 L202.3 456.1 L204.7 459.2 L207.6 455.6 L208.8 438.8 L210.5 426.3 L211.9 446 L213.6 458 L215.3 477.2 L216.2 486.8 L218.4 473.6 L220.8 467.6 L222.7 484.4 L224.9 501.2 L226.8 509.6 L228.7 491.6 L231.1 476 L234 467.1 L235.9 465.7 L237.6 455.6 L239.5 448.9 L241.7 455.6 L244.8 448.4 L246.5 454.4 L248.4 467.6 L250.8 474.3 L253.7 470 L256.1 448.4 L258.5 438.3 L260.4 448.4 L262.3 472.4 L264 486.8 L265.7 495.2 L268.1 494 L269.5 506 L270.5 524 L271.2 539.6 L273.6 530 L276 518 L277.2 515.6 L278.4 522.8 L279.6 530 L282 551.6 L284.4 573.2 L286.3 585.2 L288 573.2 L289.7 556.4 L291.6 555.2 L292.1 561.2 L294 549.2 L295.9 541.5 L298.8 540.8 L300 544.4 L301.2 539.6 L303.1 524 L304.8 506 L307.2 497.6 L309.6 495.2 L312 494.5 L314.4 502.4 L316.8 497.6 L320.4 498.3 L322.8 497.6 L325.7 500 L327.6 495.2 L330 479.6 L331.2 474.3 L333.6 479.6 L335.3 484.4 L336.7 480.1 L338.4 482 L339.6 488 L342 490.4 L344.9 495.2 L345.3 495.8 L347.6 502.6 L351.4 501.8 L353.6 495.8 L355.2 502.6 L357.4 511.7 L359.7 498.8 L362.7 493.5 L365 497.3 L367.3 503.3 L370.3 499.5 L372.1 502.6 L374.1 508.6 L376.4 492.7 L377.9 486.4 L380.2 485.9 L382.4 494.2 L385.5 501.8 L387.7 502.6 L390 517 L392.3 529.8 L394.5 520 L396.4 514.7 L397.6 465.5 L399.1 435.2 L400.3 432.9 L401.4 447.3 L402.4 435.2 L402.9 407.3 L403.9 383.7 L406.1 383.7 L407.8 387 L409.7 403 L411.5 387.6 L413.2 387 L414.7 400.9 L416.8 402.6 L418.3 389.1 L420 381.6 L422.2 378.4 L424.3 368.7 L427.6 370.9 L429.7 385.9 L431.8 381.6 L434 368.7 L435.1 334.4 L435.5 285 L437.6 285.5 L440.4 297.9 L443.6 315.1 L446.9 309.1 L448.4 330.1 L449.7 347.3 L451.2 354.8 L452.7 327.9 L454.4 330.1 L456.5 312.5 L459.7 318.9 L461.9 310.8 L465.1 291.5 L467.7 291.5 L470.5 302.2 L473.7 312.9 L475.8 327.9 L478.4 343 L481.2 345.1 L482.7 352.6 L485.5 338.7 L486.6 331.2 L488.7 330.1 L490 313 L492 295.8 L494.5 286 L496.7 292.7 L498.8 291 L500.4 271.5 L501.2 263.5 L502.5 255.5 L503.8 268 L505 274.5 L506.9 270.1 L508.8 269.4 L510.7 265.4 L513.1 262.8 L515 255.2 L517.3 254 L519.2 249.3 L520.4 227.2 L521.4 212 L524 211 L526.1 219.1 L526.9 211 L528.9 202.9 L530.1 180.7 L531.5 146.4 L532.9 133.2 L534.1 146.4 L535.6 174.6 L537.6 196.9 L540 215.1 L542.2 215.1 L543.6 223.1 L545.7 233.2 L547.7 247.4 L550.3 253.4 L553.1 261.1 L554.7 251.4 L555.8 243.3 L557.2 247.4 L558.8 235.3 L560.8 247.4 L562.8 239.3 L564.8 235.3 L566.5 227.2 L568.9 223.1 L570.9 215.1 L572.9 198.9 L574.9 192.8 L577.4 189.8 L579 212 L581 198.9 L582.6 211 L584.6 209 L586.1 186.8 L587.5 184.7 L590.1 198.9 L591.5 170.6 L592.7 167.6 L594.1 180.7 L596.2 177.7 L599.2 169.6 L600.8 156.5 L602.2 152.4 L603.2 170.6 L604.2 174.6 L606.3 171.6 L609.3 178.7 L613 184.8 L615.1 171.7 L618.1 161.6 L620.1 172.7 L622.1 187.9 L623.7 188.9 L625.8 175.8 L627.8 180.8 L629.8 192.9 L631.2 213.1 L631.8 227.3 L633.2 223.2 L635.3 207.1 L637.3 201 L639.3 190.9 L641.3 186.5 L643.3 189.9 L644.7 194.9 L646.4 187.9 L648.4 188.5 L650.4 190.5 L652.4 212.1 L654.4 213.1 L656.1 219.2 L658.5 205.1 L660.5 194.9 L662.1 191.9 L664.5 190.9 L666.6 183.8 L669.6 177.8 L672.2 175.8 L674.6 178.8 L677.7 176.8 L679.7 170.7 L681.7 160.6 L683.7 152.5 L685.8 134.3 L687.8 117.8 L689.8 128.3 L691.8 144.4 L693.2 161.6 L695.9 164.6 L697.9 174.7 L699.3 178.8 L700.9 160.6 L702.5 139.4 L703.9 152.5 L705.4 168.7 L706.6 176.4 L709 172.7 L711 160.6 L713 148.5 L715.1 133.9 L717.1 134.7 L719.1 140.4 L722.1 141.4 L724.7 146.5 L726.8 143.4 L729.2 142.4 L730.8 158.6 L732.8 170.7 L734.2 192.9 L735.7 210.1 L738.3 211.1 L741.3 210.7 L742.1 212.3 L743.9 220.9 L745.4 200.5 L747.5 206.9 L749.7 211.2 L751.8 208 L754 185.4 L755.5 192.9 L756.7 185.4 L758.9 176.8 L760.4 175.8 L761.9 159.7 L764 160.7 L765.8 170.4 L766.8 159.7 L768.3 159.7 L769.6 177.9 L771.1 203.7 L772.2 227.3 L773.3 247.7 L774.4 219.8 L776.1 225.2 L777.6 218.7 L779.1 217.6 L780.8 224.1 L782.9 227.3 L785.5 230.5 L787.2 231.6 L789 238 L790.5 240.2 L792.6 235.9 L795.4 232.7 L796.9 233.7 L799.1 239.1 L801.2 242.3 L803.3 239.8 L804.4 257.4 L805.5 271.3 L807.6 275.6 L809.8 264.9 L811.9 267 L814.1 258.4 L817.3 255.2 L819.9 247.7 L821.6 258.4 L823.3 243.4 L825.5 255.2 L826.5 235.9 L827.6 229.5 L828.7 240.2 L830.2 261.7 L831.3 271.3 L833.4 267 L834.9 287.4 L836.2 307.8 L838.3 308.9 L839.4 298.2 L840.5 278.8 L842 267 L843.5 264.9 L845.2 268.1 L847.4 262.7 L849.5 260.6 L852.1 261.7 L854.2 253.1 L857 248.8 L859.2 255.2 L861.3 258.4 L862.8 244.5 L864.1 225.2 L866.3 225.2 L868.4 232.7 L870.6 240.2 L872.7 244.5 L874.2 239.1 L875.7 244.5 L877.9 243.4 L879 243.4 L881.2 247.7 L882.9 241.3 L884.6 244.5 L886.7 257.4 L888.9 269.2 L891.5 269.2 L893.2 255.2 L895.3 246.6 L897.9 243.4 L901.1 243.4 L902.6 235.9 L903.9 227.3 L906.1 229.5 L907.6 235.9 L909.1 246.6 L910.8 255.2 L911.9 272.4 L912.9 283.1 L914.4 284.2 L915.5 270.2 L917.2 256.3 L919.4 255.2 L921.5 250.9 L924.8 242.3 L927.5 231.6 L929.1 218.7 L930.6 206.9 L932.7 205.8 L934.8 206.9 L937 205.8 L939.1 200.5 L941.3 196.2 L943.4 196.8 L945.6 200.5 L948.4 201.5 L950.5 205.8 L952.7 211.2 L954.8 209.1 L957 205.8 L959.1 199.4 L961.3 196.2 L963.4 197.2 L965.6 186.5 L967.7 192.9 L969.2 187.6 L970.9 190.8 L973.1 201.5 L974.8 197.2 L976.3 183.3 L978.4 189.7 L980.6 186.5 L982.3 175.8 L983.8 177.9 L986 184.4 L988.1 187.6 L990.7 187.6 L993.5 188.7 L995.6 192.9 L998.4 197.2 L999.9 194 L1001.4 188.7 L1003.6 189.7 L1005.7 192.9 L1006.6 193.5 L1009 189.4 L1010.7 183.7 L1012.8 189.4 L1015.1 190.3 L1017.2 193.5 L1019.7 198.5 L1021.7 201.4 L1023.8 195.2 L1025.9 198.5 L1027.1 192.7 L1029.5 190.3 L1032 183.7 L1034.1 173.8 L1036.1 168.9 L1038.6 170.6 L1040.2 169.7 L1042.3 162 L1044.3 166.5 L1046.8 168.1 L1049.2 169.7 L1050.9 165.6 L1053.3 164 L1055.5 172.2 L1057.4 170.6 L1059.1 173 L1061 165.6 L1063.2 169.7 L1064.8 168.9 L1066.5 175.5 L1068.1 165.6 L1070.2 165.3 L1072.2 167.3 L1074.2 170.6 L1075.8 173.8 L1077.9 168.9 L1080.4 168.1 L1082.9 169.7 L1085 170.6 L1086.6 177.9 L1088.3 184.5 L1090.3 188.3 L1091.9 175.5 L1093.2 174.7 L1094.8 185.3 L1096.8 186.2 L1098.5 189.4 L1100.1 190.3 L1101.7 178.8 L1103.7 176.3 L1105.8 183.7 L1108 193.5 L1109.9 193.5 L1111.3 201.7 L1112.9 204.2 L1114.9 203.4 L1116.8 208.3 L1119 212.4 L1121.1 214 L1123.1 210.8 L1125.5 209.1 L1127.7 207.5 L1129.6 202.6 L1132.1 200.9 L1134.2 201.7 L1136.2 193.5 L1137.8 187.8 L1139.5 185.3 L1141.1 183.7 L1143.6 187 L1146 184.5 L1148.5 187.8 L1150.6 187 L1152.6 183.7 L1154.3 193.5 L1156.2 201.7 L1157.9 210.8 L1160 205.8 L1162.5 200.9 L1164.9 199.3 L1167.4 197.6 L1169.3 198.1 L1172.3 158.5 L1174.5 155.5 L1175.8 131.2 L1176.8 113 L1177.9 128.2 L1178.8 142.6 L1180.3 135.8 L1182.1 133.5 L1184.4 135 L1186.4 141.8 L1188.2 148.6 L1189.7 144.8 L1191.5 141.1 L1193.5 146.4 L1195.5 147.1 L1197.3 141.8 L1199.1 135 L1201.1 137.3 L1203 132.7 L1204.8 133.5 L1206.4 131.2 L1207.9 135 L1209.7 138.8 L1211.7 134.2 L1213.6 141.8 L1215.5 147.1 L1217.3 140.3 L1218.8 135 L1220.8 134.2 L1222.7 132.7 L1224.2 123.6 L1225.3 118.3 L1226.8 122.9 L1228.8 123.6 L1230.6 119.8 L1232.4 123.6 L1234.4 124.4 L1235.5 113 L1237 100.9 L1238.5 96.4 L1240 84.2 L1241.5 78.9 L1243 79.7 L1244.2 90.3 L1245.8 101.7 L1247.3 97.9 L1248.8 88.8 L1251.1 88 L1253 87.6 L1254.8 92.6 L1256.7 95.6 L1258.2 93.3 L1259.7 85 L1261.2 80.2 L1263.2 79.7 L1264.7 81.2 L1266.2 87.3 L1268.2 90.3 L1270 93.3 L1272.3 96.4 L1274.5 98.6 L1276.1 97.9 L1277 87.3 L1277.9 83.5 L1279.4 88.8 L1280.6 96.4 L1281.8 103.9 L1283.3 107.7 L1285.2 120.6 L1286.7 132.7 L1288.2 146.4 L1289.4 158.5 L1290.6 163 L1291.5 153.9 L1292.4 144.8 L1294.2 147.9 L1296.5 147.6 L1301.5 147.6" stroke="#16c784" clip-path="url(#up)"/>
<path d="M0 518 L2.4 520.4 L4.3 524.7 L6.7 530 L8.9 539.6 L10.8 525.2 L12 514.4 L13.9 513.9 L15.6 521.6 L18 520.4 L20.4 516.8 L22.8 515.1 L24.7 504.8 L27.1 498.3 L28.8 503.6 L30.7 520.4 L32.4 534.8 L34.1 533.6 L36 520.4 L37.7 526.4 L39.6 525.2 L41.3 522.8 L43.2 512 L45.6 524 L47.3 512 L49.7 514.4 L52.8 507.9 L56.4 508.9 L58.8 511.3 L61.9 504.8 L66 495.2 L67.9 503.6 L70.8 513.2 L73.2 522.8 L75.6 529.5 L78 525.2 L80.4 513.2 L82.8 496.4 L85.2 498.8 L88.1 495.2 L90.5 480.1 L92.4 489.2 L94.8 506 L97.2 519.2 L98.4 522.8 L100.8 515.6 L103.2 513.7 L104.9 515.6 L106.8 508.4 L109.2 507.2 L111.6 519.2 L113.3 522.8 L115.2 519.2 L118.8 516.8 L121.2 514.4 L123.6 519.2 L126 515.6 L128.4 509.6 L130.8 510.3 L134.4 503.6 L137.3 495.2 L139.2 502.4 L141.6 504.1 L144.5 504.8 L146.4 515.6 L148.3 521.6 L151.2 520.4 L153.6 520.9 L155.5 529.5 L157.2 515.6 L158.9 501.2 L160.3 510.8 L161.3 526.4 L163.2 515.6 L165.6 508.4 L168 504.8 L170.9 497.6 L174 488 L176.4 492.8 L179.3 493.5 L180.7 506 L182.4 518 L184.1 501.2 L187.2 497.6 L189.6 491.6 L192.7 485.6 L193.9 462.8 L195.1 448.4 L196.8 458 L199.2 462.3 L202.3 456.1 L204.7 459.2 L207.6 455.6 L208.8 438.8 L210.5 426.3 L211.9 446 L213.6 458 L215.3 477.2 L216.2 486.8 L218.4 473.6 L220.8 467.6 L222.7 484.4 L224.9 501.2 L226.8 509.6 L228.7 491.6 L231.1 476 L234 467.1 L235.9 465.7 L237.6 455.6 L239.5 448.9 L241.7 455.6 L244.8 448.4 L246.5 454.4 L248.4 467.6 L250.8 474.3 L253.7 470 L256.1 448.4 L258.5 438.3 L260.4 448.4 L262.3 472.4 L264 486.8 L265.7 495.2 L268.1 494 L269.5 506 L270.5 524 L271.2 539.6 L273.6 530 L276 518 L277.2 515.6 L278.4 522.8 L279.6 530 L282 551.6 L284.4 573.2 L286.3 585.2 L288 573.2 L289.7 556.4 L291.6 555.2 L292.1 561.2 L294 549.2 L295.9 541.5 L298.8 540.8 L300 544.4 L301.2 539.6 L303.1 524 L304.8 506 L307.2 497.6 L309.6 495.2 L312 494.5 L314.4 502.4 L316.8 497.6 L320.4 498.3 L322.8 497.6 L325.7 500 L327.6 495.2 L330 479.6 L331.2 474.3 L333.6 479.6 L335.3 484.4 L336.7 480.1 L338.4 482 L339.6 488 L342 490.4 L344.9 495.2 L345.3 495.8 L347.6 502.6 L351.4 501.8 L353.6 495.8 L355.2 502.6 L357.4 511.7 L359.7 498.8 L362.7 493.5 L365 497.3 L367.3 503.3 L370.3 499.5 L372.1 502.6 L374.1 508.6 L376.4 492.7 L377.9 486.4 L380.2 485.9 L382.4 494.2 L385.5 501.8 L387.7 502.6 L390 517 L392.3 529.8 L394.5 520 L396.4 514.7 L397.6 465.5 L399.1 435.2 L400.3 432.9 L401.4 447.3 L402.4 435.2 L402.9 407.3 L403.9 383.7 L406.1 383.7 L407.8 387 L409.7 403 L411.5 387.6 L413.2 387 L414.7 400.9 L416.8 402.6 L418.3 389.1 L420 381.6 L422.2 378.4 L424.3 368.7 L427.6 370.9 L429.7 385.9 L431.8 381.6 L434 368.7 L435.1 334.4 L435.5 285 L437.6 285.5 L440.4 297.9 L443.6 315.1 L446.9 309.1 L448.4 330.1 L449.7 347.3 L451.2 354.8 L452.7 327.9 L454.4 330.1 L456.5 312.5 L459.7 318.9 L461.9 310.8 L465.1 291.5 L467.7 291.5 L470.5 302.2 L473.7 312.9 L475.8 327.9 L478.4 343 L481.2 345.1 L482.7 352.6 L485.5 338.7 L486.6 331.2 L488.7 330.1 L490 313 L492 295.8 L494.5 286 L496.7 292.7 L498.8 291 L500.4 271.5 L501.2 263.5 L502.5 255.5 L503.8 268 L505 274.5 L506.9 270.1 L508.8 269.4 L510.7 265.4 L513.1 262.8 L515 255.2 L517.3 254 L519.2 249.3 L520.4 227.2 L521.4 212 L524 211 L526.1 219.1 L526.9 211 L528.9 202.9 L530.1 180.7 L531.5 146.4 L532.9 133.2 L534.1 146.4 L535.6 174.6 L537.6 196.9 L540 215.1 L542.2 215.1 L543.6 223.1 L545.7 233.2 L547.7 247.4 L550.3 253.4 L553.1 261.1 L554.7 251.4 L555.8 243.3 L557.2 247.4 L558.8 235.3 L560.8 247.4 L562.8 239.3 L564.8 235.3 L566.5 227.2 L568.9 223.1 L570.9 215.1 L572.9 198.9 L574.9 192.8 L577.4 189.8 L579 212 L581 198.9 L582.6 211 L584.6 209 L586.1 186.8 L587.5 184.7 L590.1 198.9 L591.5 170.6 L592.7 167.6 L594.1 180.7 L596.2 177.7 L599.2 169.6 L600.8 156.5 L602.2 152.4 L603.2 170.6 L604.2 174.6 L606.3 171.6 L609.3 178.7 L613 184.8 L615.1 171.7 L618.1 161.6 L620.1 172.7 L622.1 187.9 L623.7 188.9 L625.8 175.8 L627.8 180.8 L629.8 192.9 L631.2 213.1 L631.8 227.3 L633.2 223.2 L635.3 207.1 L637.3 201 L639.3 190.9 L641.3 186.5 L643.3 189.9 L644.7 194.9 L646.4 187.9 L648.4 188.5 L650.4 190.5 L652.4 212.1 L654.4 213.1 L656.1 219.2 L658.5 205.1 L660.5 194.9 L662.1 191.9 L664.5 190.9 L666.6 183.8 L669.6 177.8 L672.2 175.8 L674.6 178.8 L677.7 176.8 L679.7 170.7 L681.7 160.6 L683.7 152.5 L685.8 134.3 L687.8 117.8 L689.8 128.3 L691.8 144.4 L693.2 161.6 L695.9 164.6 L697.9 174.7 L699.3 178.8 L700.9 160.6 L702.5 139.4 L703.9 152.5 L705.4 168.7 L706.6 176.4 L709 172.7 L711 160.6 L713 148.5 L715.1 133.9 L717.1 134.7 L719.1 140.4 L722.1 141.4 L724.7 146.5 L726.8 143.4 L729.2 142.4 L730.8 158.6 L732.8 170.7 L734.2 192.9 L735.7 210.1 L738.3 211.1 L741.3 210.7 L742.1 212.3 L743.9 220.9 L745.4 200.5 L747.5 206.9 L749.7 211.2 L751.8 208 L754 185.4 L755.5 192.9 L756.7 185.4 L758.9 176.8 L760.4 175.8 L761.9 159.7 L764 160.7 L765.8 170.4 L766.8 159.7 L768.3 159.7 L769.6 177.9 L771.1 203.7 L772.2 227.3 L773.3 247.7 L774.4 219.8 L776.1 225.2 L777.6 218.7 L779.1 217.6 L780.8 224.1 L782.9 227.3 L785.5 230.5 L787.2 231.6 L789 238 L790.5 240.2 L792.6 235.9 L795.4 232.7 L796.9 233.7 L799.1 239.1 L801.2 242.3 L803.3 239.8 L804.4 257.4 L805.5 271.3 L807.6 275.6 L809.8 264.9 L811.9 267 L814.1 258.4 L817.3 255.2 L819.9 247.7 L821.6 258.4 L823.3 243.4 L825.5 255.2 L826.5 235.9 L827.6 229.5 L828.7 240.2 L830.2 261.7 L831.3 271.3 L833.4 267 L834.9 287.4 L836.2 307.8 L838.3 308.9 L839.4 298.2 L840.5 278.8 L842 267 L843.5 264.9 L845.2 268.1 L847.4 262.7 L849.5 260.6 L852.1 261.7 L854.2 253.1 L857 248.8 L859.2 255.2 L861.3 258.4 L862.8 244.5 L864.1 225.2 L866.3 225.2 L868.4 232.7 L870.6 240.2 L872.7 244.5 L874.2 239.1 L875.7 244.5 L877.9 243.4 L879 243.4 L881.2 247.7 L882.9 241.3 L884.6 244.5 L886.7 257.4 L888.9 269.2 L891.5 269.2 L893.2 255.2 L895.3 246.6 L897.9 243.4 L901.1 243.4 L902.6 235.9 L903.9 227.3 L906.1 229.5 L907.6 235.9 L909.1 246.6 L910.8 255.2 L911.9 272.4 L912.9 283.1 L914.4 284.2 L915.5 270.2 L917.2 256.3 L919.4 255.2 L921.5 250.9 L924.8 242.3 L927.5 231.6 L929.1 218.7 L930.6 206.9 L932.7 205.8 L934.8 206.9 L937 205.8 L939.1 200.5 L941.3 196.2 L943.4 196.8 L945.6 200.5 L948.4 201.5 L950.5 205.8 L952.7 211.2 L954.8 209.1 L957 205.8 L959.1 199.4 L961.3 196.2 L963.4 197.2 L965.6 186.5 L967.7 192.9 L969.2 187.6 L970.9 190.8 L973.1 201.5 L974.8 197.2 L976.3 183.3 L978.4 189.7 L980.6 186.5 L982.3 175.8 L983.8 177.9 L986 184.4 L988.1 187.6 L990.7 187.6 L993.5 188.7 L995.6 192.9 L998.4 197.2 L999.9 194 L1001.4 188.7 L1003.6 189.7 L1005.7 192.9 L1006.6 193.5 L1009 189.4 L1010.7 183.7 L1012.8 189.4 L1015.1 190.3 L1017.2 193.5 L1019.7 198.5 L1021.7 201.4 L1023.8 195.2 L1025.9 198.5 L1027.1 192.7 L1029.5 190.3 L1032 183.7 L1034.1 173.8 L1036.1 168.9 L1038.6 170.6 L1040.2 169.7 L1042.3 162 L1044.3 166.5 L1046.8 168.1 L1049.2 169.7 L1050.9 165.6 L1053.3 164 L1055.5 172.2 L1057.4 170.6 L1059.1 173 L1061 165.6 L1063.2 169.7 L1064.8 168.9 L1066.5 175.5 L1068.1 165.6 L1070.2 165.3 L1072.2 167.3 L1074.2 170.6 L1075.8 173.8 L1077.9 168.9 L1080.4 168.1 L1082.9 169.7 L1085 170.6 L1086.6 177.9 L1088.3 184.5 L1090.3 188.3 L1091.9 175.5 L1093.2 174.7 L1094.8 185.3 L1096.8 186.2 L1098.5 189.4 L1100.1 190.3 L1101.7 178.8 L1103.7 176.3 L1105.8 183.7 L1108 193.5 L1109.9 193.5 L1111.3 201.7 L1112.9 204.2 L1114.9 203.4 L1116.8 208.3 L1119 212.4 L1121.1 214 L1123.1 210.8 L1125.5 209.1 L1127.7 207.5 L1129.6 202.6 L1132.1 200.9 L1134.2 201.7 L1136.2 193.5 L1137.8 187.8 L1139.5 185.3 L1141.1 183.7 L1143.6 187 L1146 184.5 L1148.5 187.8 L1150.6 187 L1152.6 183.7 L1154.3 193.5 L1156.2 201.7 L1157.9 210.8 L1160 205.8 L1162.5 200.9 L1164.9 199.3 L1167.4 197.6 L1169.3 198.1 L1172.3 158.5 L1174.5 155.5 L1175.8 131.2 L1176.8 113 L1177.9 128.2 L1178.8 142.6 L1180.3 135.8 L1182.1 133.5 L1184.4 135 L1186.4 141.8 L1188.2 148.6 L1189.7 144.8 L1191.5 141.1 L1193.5 146.4 L1195.5 147.1 L1197.3 141.8 L1199.1 135 L1201.1 137.3 L1203 132.7 L1204.8 133.5 L1206.4 131.2 L1207.9 135 L1209.7 138.8 L1211.7 134.2 L1213.6 141.8 L1215.5 147.1 L1217.3 140.3 L1218.8 135 L1220.8 134.2 L1222.7 132.7 L1224.2 123.6 L1225.3 118.3 L1226.8 122.9 L1228.8 123.6 L1230.6 119.8 L1232.4 123.6 L1234.4 124.4 L1235.5 113 L1237 100.9 L1238.5 96.4 L1240 84.2 L1241.5 78.9 L1243 79.7 L1244.2 90.3 L1245.8 101.7 L1247.3 97.9 L1248.8 88.8 L1251.1 88 L1253 87.6 L1254.8 92.6 L1256.7 95.6 L1258.2 93.3 L1259.7 85 L1261.2 80.2 L1263.2 79.7 L1264.7 81.2 L1266.2 87.3 L1268.2 90.3 L1270 93.3 L1272.3 96.4 L1274.5 98.6 L1276.1 97.9 L1277 87.3 L1277.9 83.5 L1279.4 88.8 L1280.6 96.4 L1281.8 103.9 L1283.3 107.7 L1285.2 120.6 L1286.7 132.7 L1288.2 146.4 L1289.4 158.5 L1290.6 163 L1291.5 153.9 L1292.4 144.8 L1294.2 147.9 L1296.5 147.6 L1301.5 147.6" stroke="#ea3943" clip-path="url(#dn)"/>
</g>
<circle cx="1301.6" cy="147.6" r="7.7" fill="#16c784"/>
<g stroke="#eff2f5" stroke-width="1.4"><line x1="1316.5" x2="1316.5" y1="0" y2="740.5"/><line x1="0" x2="1316.5" y1="740.5" y2="740.5"/><line x1="88.3" x2="88.3" y1="740.5" y2="745.0"/><line x1="275.1" x2="275.1" y1="740.5" y2="745.0"/><line x1="461.9" x2="461.9" y1="740.5" y2="745.0"/><line x1="648.7" x2="648.7" y1="740.5" y2="745.0"/><line x1="835.5" x2="835.5" y1="740.5" y2="745.0"/><line x1="1022.3" x2="1022.3" y1="740.5" y2="745.0"/><line x1="1209.1" x2="1209.1" y1="740.5" y2="745.0"/></g>
<g class="yl"><text x="1334.6" y="27.4" textLength="41" lengthAdjust="spacingAndGlyphs">395</text><text x="1334.6" y="85.9" textLength="41" lengthAdjust="spacingAndGlyphs">390</text><text x="1334.6" y="144.3" textLength="41" lengthAdjust="spacingAndGlyphs">385</text><text x="1334.6" y="202.8" textLength="41" lengthAdjust="spacingAndGlyphs">380</text><text x="1334.6" y="261.2" textLength="41" lengthAdjust="spacingAndGlyphs">375</text><text x="1334.6" y="319.7" textLength="41" lengthAdjust="spacingAndGlyphs">370</text><text x="1334.6" y="378.1" textLength="41" lengthAdjust="spacingAndGlyphs">365</text><text x="1334.6" y="436.6" textLength="41" lengthAdjust="spacingAndGlyphs">360</text><text x="1334.6" y="495.1" textLength="41" lengthAdjust="spacingAndGlyphs">355</text><text x="1334.6" y="553.5" textLength="41" lengthAdjust="spacingAndGlyphs">350</text><text x="1334.6" y="612" textLength="41" lengthAdjust="spacingAndGlyphs">345</text><text x="1334.6" y="670.4" textLength="41" lengthAdjust="spacingAndGlyphs">340</text><text x="1334.6" y="728.9" textLength="41" lengthAdjust="spacingAndGlyphs">335</text></g>
<rect x="1316.0" y="130.3" width="76.0" height="35.2" fill="#16c784"/>
<text x="1334.6" y="156.4" font-family="Liberation Sans, sans-serif" font-size="22.2" fill="#fff" stroke="#fff" stroke-width="0.35" textLength="41" lengthAdjust="spacingAndGlyphs">384</text>
<g class="xl"><text x="74.3" y="775.7" textLength="28" lengthAdjust="spacingAndGlyphs">20</text><text x="263.7" y="775.7" textLength="22.8" lengthAdjust="spacingAndGlyphs">21</text><text x="448.3" y="775.7" textLength="27.3" lengthAdjust="spacingAndGlyphs">22</text><text x="634.9" y="775.7" textLength="27.7" lengthAdjust="spacingAndGlyphs">23</text><text x="821.4" y="775.7" textLength="28.3" lengthAdjust="spacingAndGlyphs">24</text><text x="1008.4" y="775.7" textLength="27.8" lengthAdjust="spacingAndGlyphs">25</text><text x="1195.2" y="775.7" textLength="27.8" lengthAdjust="spacingAndGlyphs">26</text></g>
</svg>
</body></html>
